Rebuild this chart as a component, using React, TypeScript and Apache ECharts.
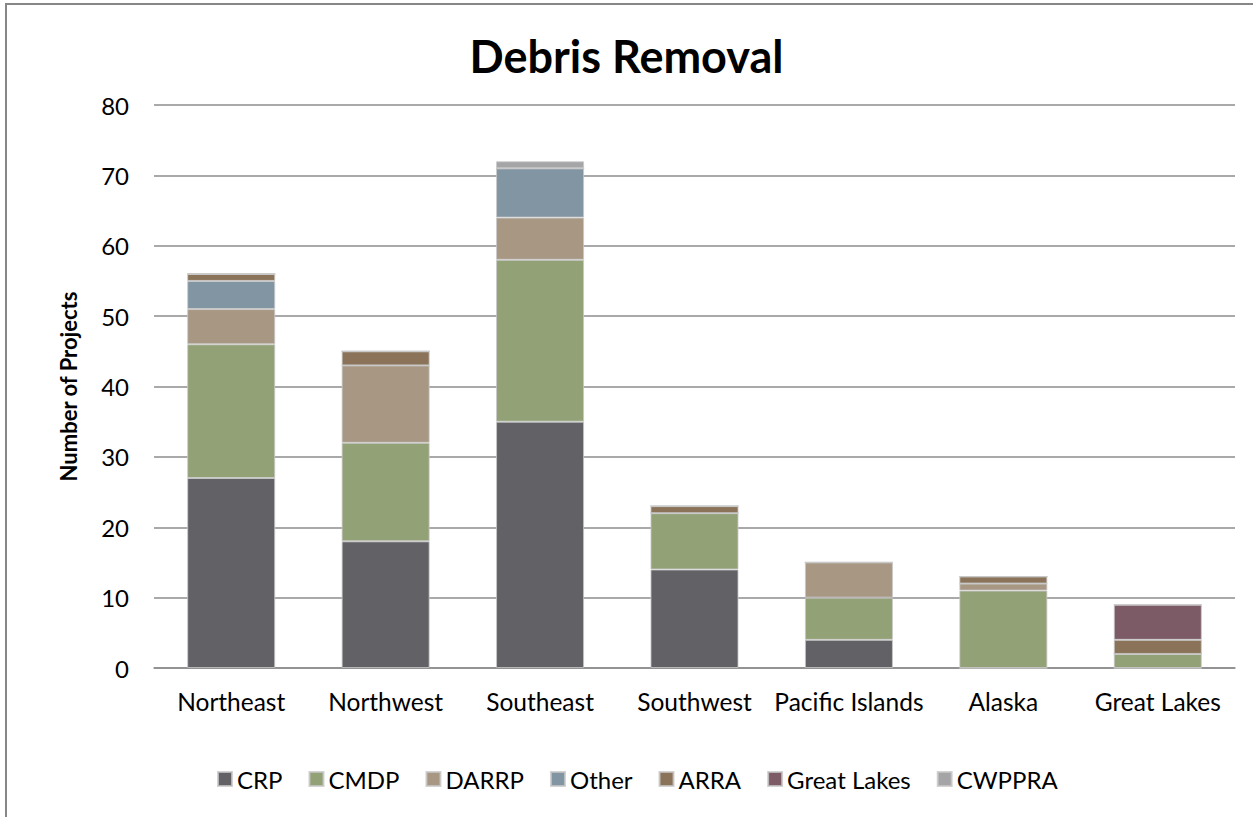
import React, { useEffect, useRef } from "react";
import * as echarts from "echarts";

const categories = ["Northeast", "Northwest", "Southeast", "Southwest", "Pacific Islands", "Alaska", "Great Lakes"];
const seriesNames = ["CRP", "CMDP", "DARRP", "Other", "ARRA", "Great Lakes", "CWPPRA"];
const crp = [27, 18, 35, 14, 4, 0, 0];
const cmdp = [19, 14, 23, 8, 6, 11, 2];
const darrp = [5, 11, 6, 0, 5, 1, 0];
const other = [4, 0, 7, 0, 0, 0, 0];
const arra = [1, 2, 0, 1, 0, 1, 2];
const greatLakes = [0, 0, 0, 0, 0, 0, 5];
const cwppra = [0, 0, 1, 0, 0, 0, 0];
const yTicks = [0, 10, 20, 30, 40, 50, 60, 70, 80];

const colors = ["#626166", "#93A176", "#A89883", "#8295A3", "#8A7358", "#7D5B66", "#A5A5A7"];
const values = [crp, cmdp, darrp, other, arra, greatLakes, cwppra];

const FONT = "Lato, 'Open Sans', sans-serif";

export default function App() {
  const ref = useRef<HTMLDivElement>(null);
  useEffect(() => {
    if (!ref.current) return;
    const chart = echarts.init(ref.current, null, { renderer: "svg" });
    chart.setOption({
      animation: false,
      backgroundColor: "#ffffff",
      graphic: [
        {
          type: "rect",
          shape: { x: 6, y: 4, width: 1400, height: 1000 },
          style: { fill: "none", stroke: "#878787", lineWidth: 2 },
          silent: true,
        },
      ],
      title: {
        text: "Debris Removal",
        left: "center",
        top: 28,
        textStyle: { fontFamily: FONT, fontSize: 45, fontWeight: "bold", color: "#000" },
      },
      grid: { left: 154, right: 18, top: 105, bottom: 149, containLabel: false },
      legend: {
        top: 762,
        left: 212,
        itemWidth: 14,
        itemHeight: 14,
        itemGap: 26,
        icon: "rect",
        textStyle: { fontFamily: FONT, fontSize: 24, color: "#000" },
        data: seriesNames,
      },
      xAxis: {
        type: "category",
        data: categories,
        axisTick: { show: false },
        axisLine: { lineStyle: { color: "#8c8c8c", width: 1.5 } },
        axisLabel: { fontFamily: FONT, fontSize: 24.5, color: "#000", margin: 21, interval: 0 },
      },
      yAxis: {
        type: "value",
        min: 0,
        max: 80,
        interval: 10,
        name: "Number of Projects",
        nameLocation: "middle",
        nameGap: 75,
        nameTextStyle: { fontFamily: FONT, fontSize: 22, fontWeight: "bold", color: "#000" },
        axisLabel: {
          fontFamily: FONT,
          fontSize: 24,
          color: "#000",
          margin: 25,
          formatter: (v: number) => (yTicks.includes(v) ? String(v) : ""),
        },
        axisLine: { show: false },
        axisTick: { show: false },
        splitLine: { lineStyle: { color: "#8c8c8c", width: 1.5 } },
      },
      series: seriesNames.map((name, i) => ({
        name,
        type: "bar",
        stack: "total",
        barWidth: "57%",
        data: values[i],
        itemStyle: { color: colors[i], borderColor: "rgba(200,200,200,0.8)", borderWidth: 1 },
      })),
    });
    return () => chart.dispose();
  }, []);
  return (
    <div
      ref={ref}
      style={{ position: "absolute", left: 0, top: 0, width: 1253, height: 817 }}
    />
  );
}
